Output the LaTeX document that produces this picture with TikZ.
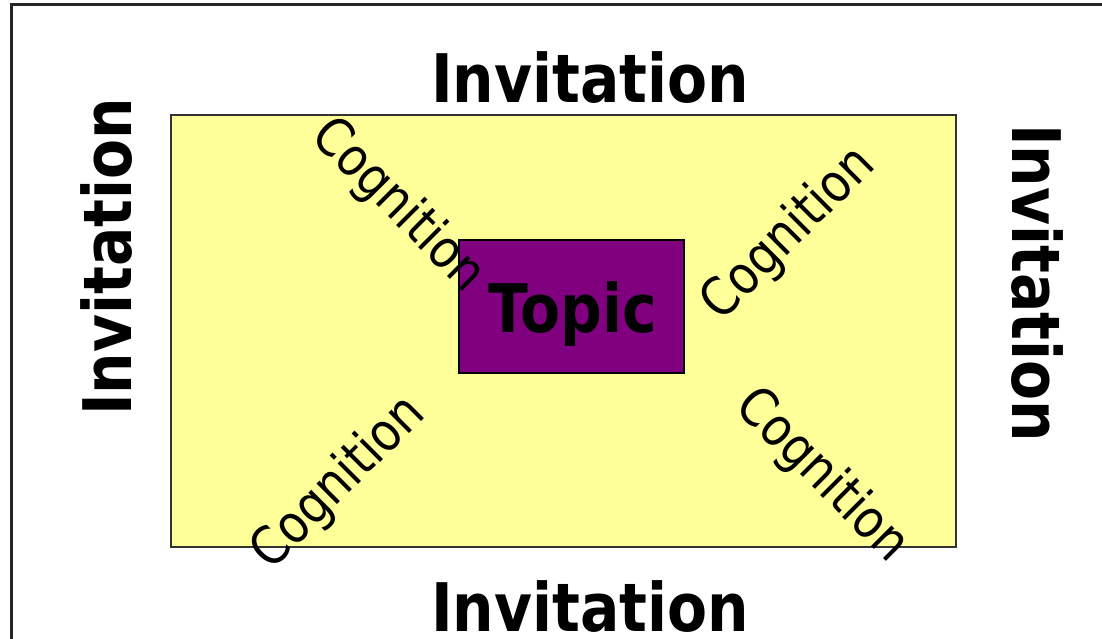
\documentclass[tikz,border=0pt]{standalone}
\usepackage{fontspec}
\newfontfamily\tfont[FakeStretch=0.87]{DejaVu Sans}
\definecolor{paleyellow}{HTML}{FFFF99}
\definecolor{topicpurple}{HTML}{800080}
\begin{document}
\begin{tikzpicture}[x=1pt,y=-1pt,
  frameline/.style={line width=2.8pt,draw=black!85},
  invit/.style={font=\tfont\bfseries\fontsize{67}{80}\selectfont,inner sep=0pt,anchor=base},
  cogn/.style={font=\tfont\fontsize{53}{64}\selectfont,inner sep=0pt,anchor=center},
  topicbox/.style={draw=black,line width=1.5pt,fill=topicpurple},
  fieldbox/.style={draw=black!80,line width=1.3pt,fill=paleyellow}]
\useasboundingbox (0,0) rectangle (1102,639);
\coordinate (ftl) at (11.5,4.5);
\coordinate (ftr) at (1102,4.5);
\coordinate (fbl) at (11.5,639);
\draw[frameline] (10,4.5) -- (ftr);
\draw[frameline] (ftl) -- (fbl);
\draw[fieldbox] (171,115) rectangle (956,547);
\node[topicbox,minimum width=225pt,minimum height=133pt,inner sep=0pt] (topicrect) at (571.5,306.5) {};
\node[invit] (topic) at (573,332) {Topic};
\node[invit] (invtop) at (590,103) {Invitation};
\node[invit] (invbot) at (590,631) {Invitation};
\node[invit,rotate=90] (invleft) at (131,257) {Invitation};
\node[invit,rotate=-90] (invright) at (1012,283) {Invitation};
\node[cogn,rotate=-45] (cogtl) at (398,206) {Cognition};
\node[cogn,rotate=45] (cogtr) at (789,234) {Cognition};
\node[cogn,rotate=45] (cogbl) at (339,483) {Cognition};
\node[cogn,rotate=-45] (cogbr) at (822,476) {Cognition};
\end{tikzpicture}
\end{document}
